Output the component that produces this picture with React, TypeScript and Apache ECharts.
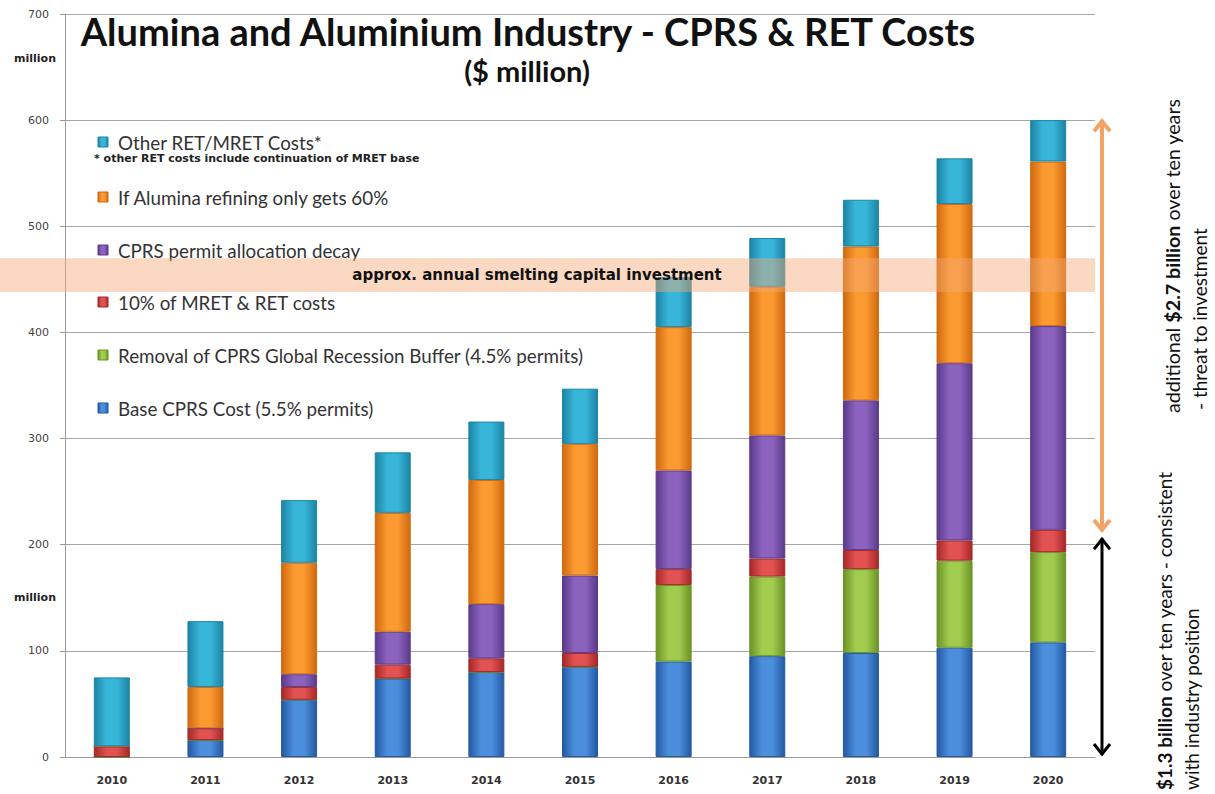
import React, { useEffect, useRef } from "react";
import * as echarts from "echarts";

const categories = ["2010", "2011", "2012", "2013", "2014", "2015", "2016", "2017", "2018", "2019", "2020"];
const baseCprs = [0, 16, 54, 74, 80, 85, 90, 95, 98, 103, 108];
const recessionBuffer = [0, 0, 0, 0, 0, 0, 72, 75, 79, 82, 85];
const mretTenPct = [10, 11, 12, 13, 13, 13, 15, 17, 18, 19, 21];
const permitDecay = [0, 0, 12, 31, 51, 73, 93, 116, 141, 167, 192];
const aluminaSixty = [0, 39, 105, 112, 117, 124, 135, 140, 145, 150, 155];
const otherRet = [65, 62, 59, 57, 55, 52, 47, 46, 44, 43, 39];
const yTicks = { min: 0, max: 700, interval: 100 };
const bandRange = [438, 470];
const upperArrow = [213, 600];
const lowerArrow = [0, 208];

const seriesDefs = [
  { name: "Base CPRS Cost (5.5% permits)", data: baseCprs, mid: "#4b8fdc", edge: "#2459a3" },
  { name: "Removal of CPRS Global Recession Buffer (4.5% permits)", data: recessionBuffer, mid: "#a2cc4e", edge: "#6a9327" },
  { name: "10% of MRET & RET costs", data: mretTenPct, mid: "#e35252", edge: "#a52828" },
  { name: "CPRS permit allocation decay", data: permitDecay, mid: "#8b63bf", edge: "#5b3a8a" },
  { name: "If Alumina refining only gets 60%", data: aluminaSixty, mid: "#fb9a30", edge: "#d0690f" },
  { name: "Other RET/MRET Costs*", data: otherRet, mid: "#38b6da", edge: "#1c84a4" },
];

const grad = (mid: string, edge: string) =>
  new echarts.graphic.LinearGradient(0, 0, 1, 0, [
    { offset: 0, color: edge },
    { offset: 0.35, color: mid },
    { offset: 0.65, color: mid },
    { offset: 1, color: edge },
  ]);

export default function App() {
  const ref = useRef<HTMLDivElement>(null);
  useEffect(() => {
    const chart = echarts.init(ref.current!, null, { renderer: "svg" });
    chart.setOption({
      animation: false,
      grid: { left: 65, right: 120, top: 14, bottom: 37 },
      xAxis: {
        type: "category",
        data: categories,
        axisLine: { lineStyle: { color: "#999" } },
        axisTick: { length: 5, lineStyle: { color: "#999" } },
        axisLabel: { color: "#333", fontFamily: "DejaVu Sans", fontWeight: "bold", fontSize: 11, margin: 18 },
      },
      yAxis: {
        type: "value",
        min: yTicks.min,
        max: yTicks.max,
        interval: yTicks.interval,
        axisLine: { show: true, lineStyle: { color: "#999" } },
        axisTick: { show: true, length: 5, lineStyle: { color: "#999" } },
        axisLabel: { color: "#444", fontFamily: "DejaVu Sans", fontSize: 11, margin: 16 },
        splitLine: { lineStyle: { color: "#a6a6a6", width: 1 } },
      },
      series: seriesDefs.map((s) => ({
        name: s.name,
        type: "bar",
        stack: "total",
        barWidth: 36,
        data: s.data,
        itemStyle: { color: grad(s.mid, s.edge), borderColor: s.edge, borderWidth: 1 },
      })),
    });

    const py = (v: number) => chart.convertToPixel({ yAxisIndex: 0 }, v) as number;
    const ax = 1102;
    const g: any[] = [];
    // band
    g.push({
      type: "rect",
      z: 100,
      shape: { x: 0, y: py(bandRange[1]), width: 1095, height: py(bandRange[0]) - py(bandRange[1]) },
      style: { fill: "rgba(245,168,118,0.45)" },
    });
    g.push({
      type: "text",
      z: 101,
      x: 537,
      y: (py(bandRange[0]) + py(bandRange[1])) / 2,
      style: {
        text: "approx. annual smelting capital investment",
        font: "bold 15px 'DejaVu Sans'",
        fill: "#111",
        align: "center",
        verticalAlign: "middle",
      },
    });
    // title
    g.push({
      type: "text",
      x: 528,
      y: 31,
      style: {
        text: "Alumina and Aluminium Industry - CPRS & RET Costs",
        font: "bold 38px Lato",
        fill: "#111",
        align: "center",
        verticalAlign: "middle",
      },
    });
    g.push({
      type: "text",
      x: 527,
      y: 70,
      style: { text: "($ million)", font: "bold 29px Lato", fill: "#111", align: "center", verticalAlign: "middle" },
    });
    // million labels
    [58, 597].forEach((yy) =>
      g.push({
        type: "text",
        x: 35,
        y: yy,
        style: { text: "million", font: "bold 11px 'DejaVu Sans'", fill: "#222", align: "center", verticalAlign: "middle" },
      })
    );
    // legend
    const legendY = [142, 197, 250, 302, 355, 408];
    const legendOrder = [5, 4, 3, 2, 1, 0];
    legendOrder.forEach((si, i) => {
      const s = seriesDefs[si];
      g.push({
        type: "rect",
        shape: { x: 98, y: legendY[i] - 5, width: 10, height: 10 },
        style: { fill: grad(s.mid, s.edge), stroke: s.edge, lineWidth: 1 },
      });
      g.push({
        type: "text",
        x: 118,
        y: legendY[i],
        style: { text: s.name, font: "18.8px Lato", fill: "#333", verticalAlign: "middle" },
      });
    });
    g.push({
      type: "text",
      x: 94,
      y: 158,
      style: {
        text: "* other RET costs include continuation of MRET base",
        font: "bold 11px 'DejaVu Sans'",
        fill: "#222",
        verticalAlign: "middle",
      },
    });
    // arrows
    const arrow = (y1: number, y2: number, color: string, w: number) => {
      g.push({ type: "line", shape: { x1: ax, y1, x2: ax, y2 }, style: { stroke: color, lineWidth: w } });
      g.push({
        type: "polyline",
        shape: { points: [[ax - 8, y1 + 11], [ax, y1 + 1], [ax + 8, y1 + 11]] },
        style: { stroke: color, lineWidth: w, fill: null },
      });
      g.push({
        type: "polyline",
        shape: { points: [[ax - 8, y2 - 11], [ax, y2 - 1], [ax + 8, y2 - 11]] },
        style: { stroke: color, lineWidth: w, fill: null },
      });
    };
    arrow(py(upperArrow[1]), py(upperArrow[0]), "#f2a466", 4);
    arrow(py(lowerArrow[1]) + 2, py(lowerArrow[0]) - 2, "#000", 3);
    // rotated annotations
    const rot = (x: number, y: number, text: string, size: number) =>
      g.push({
        type: "text",
        x,
        y,
        rotation: Math.PI / 2,
        style: {
          text,
          font: `${size}px Lato`,
          fill: "#111",
          align: "left",
          verticalAlign: "middle",
          rich: { b: { font: `bold ${size}px Lato`, fill: "#111" } },
        },
      });
    rot(1172, 413, "additional {b|$2.7 billion} over ten years", 19.7);
    rot(1199, 410, "- threat to investment", 19);
    rot(1164, 790, "{b|$1.3 billion} over ten years - consistent", 19);
    rot(1191, 790, "with industry position", 19);
    chart.setOption({ graphic: g });
    return () => chart.dispose();
  }, []);
  return <div ref={ref} style={{ position: "absolute", left: 0, top: 0, width: 1215, height: 794 }} />;
}
